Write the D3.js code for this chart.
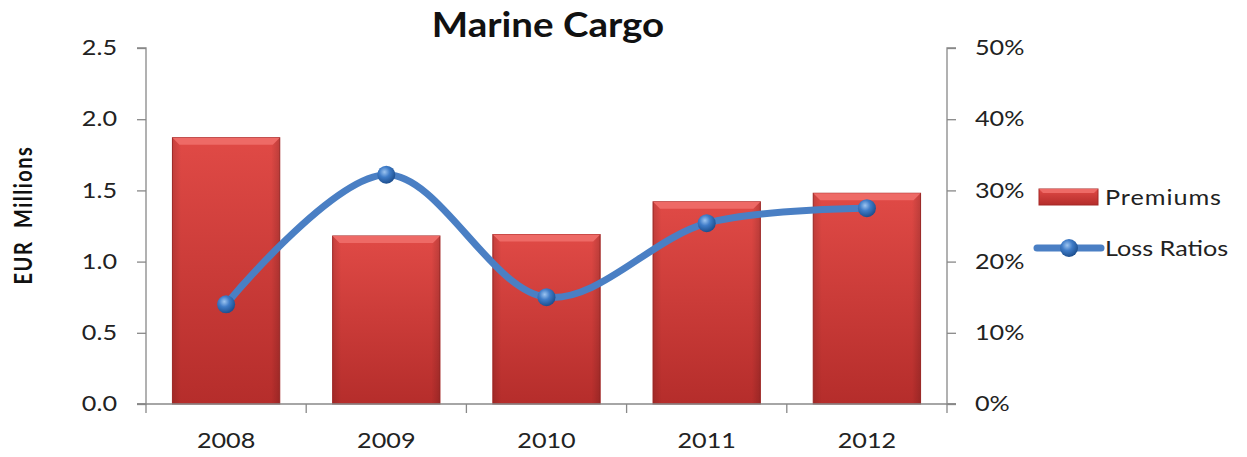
<!DOCTYPE html>
<html><head><meta charset="utf-8">
<script src="https://cdn.jsdelivr.net/npm/d3@7"></script>
<style>body{margin:0;background:#fff}svg{display:block}text{font-family:Lato,"Open Sans",sans-serif;fill:#222}</style>
</head><body><svg id="c" width="1247" height="457"></svg>
<script>
const years = ["2008","2009","2010","2011","2012"];
const premiums = [1.87, 1.18, 1.19, 1.42, 1.48];
const lossRatios = [0.14, 0.322, 0.15, 0.254, 0.275];
const leftTicks = [0, 0.5, 1.0, 1.5, 2.0, 2.5];
const rightTicks = [0, 0.1, 0.2, 0.3, 0.4, 0.5];
const title = "Marine Cargo";
const yTitle = "EUR  Millions";
const seriesNames = ["Premiums", "Loss Ratios"];

const SX = 1.2; // horizontal stretch of the original's text
const svg = d3.select("#c");
const L = 146, R = 947, T = 48, B = 404;
const x = d3.scaleBand().domain(years).range([L, R]).paddingInner(0.33).paddingOuter(0.165);
const xc = d3.scaleBand().domain(years).range([L, R]);
const y = d3.scaleLinear().domain([0, 2.5]).range([B, T]);
const y2 = d3.scaleLinear().domain([0, 0.5]).range([B, T]);

const defs = svg.append("defs");
const g1 = defs.append("linearGradient").attr("id","barG").attr("x1",0).attr("y1",0).attr("x2",0).attr("y2",1);
g1.append("stop").attr("offset","0%").attr("stop-color","#e04a46");
g1.append("stop").attr("offset","100%").attr("stop-color","#b52d2b");
const g2 = defs.append("linearGradient").attr("id","barH").attr("x1",0).attr("y1",0).attr("x2",1).attr("y2",0);
g2.append("stop").attr("offset","0%").attr("stop-color","#000").attr("stop-opacity",0.12);
g2.append("stop").attr("offset","8%").attr("stop-color","#000").attr("stop-opacity",0);
g2.append("stop").attr("offset","92%").attr("stop-color","#000").attr("stop-opacity",0);
g2.append("stop").attr("offset","100%").attr("stop-color","#000").attr("stop-opacity",0.15);
const rg = defs.append("radialGradient").attr("id","dotG").attr("cx","40%").attr("cy","35%").attr("r","65%");
rg.append("stop").attr("offset","0%").attr("stop-color","#9cc4f0");
rg.append("stop").attr("offset","45%").attr("stop-color","#3f7cc8");
rg.append("stop").attr("offset","100%").attr("stop-color","#1d4f8f");

// title
svg.append("g").attr("transform","translate(548,37) scale(1.1,1)")
  .append("text").attr("text-anchor","middle")
  .style("font-size","35px").style("font-weight","bold").style("fill","#111").text(title);
// y title
svg.append("g").attr("transform",`translate(32,215) scale(${SX},1) rotate(-90)`)
  .append("text").attr("text-anchor","middle").attr("xml:space","preserve").style("white-space","pre")
  .style("font-size","20px").style("font-weight","bold").style("letter-spacing","1.5px").style("fill","#111").text(yTitle);

// bars
const bars = svg.append("g").selectAll("g").data(years).join("g");
bars.append("rect").attr("x", d=>x(d)).attr("width", x.bandwidth())
  .attr("y", (d,i)=>y(premiums[i])).attr("height",(d,i)=>B - y(premiums[i]))
  .attr("fill","url(#barG)").attr("stroke","#a52826").attr("stroke-width",1);
bars.append("rect").attr("x", d=>x(d)).attr("width", x.bandwidth())
  .attr("y", (d,i)=>y(premiums[i])).attr("height",(d,i)=>B - y(premiums[i]))
  .attr("fill","url(#barH)");
bars.append("path").attr("d",(d,i)=>{
  const x0 = x(d), x1 = x(d)+x.bandwidth(), t = y(premiums[i]), b = 7;
  return `M${x0},${t}L${x1},${t}L${x1-b},${t+b}L${x0+b},${t+b}Z`;
}).attr("fill","#ee6a66");

// axes
const axL = svg.append("g").attr("transform",`translate(${L},0)`)
  .call(d3.axisLeft(y).tickValues(leftTicks).tickFormat(d3.format(".1f")).tickSize(9).tickPadding(20));
const axR = svg.append("g").attr("transform",`translate(${R},0)`)
  .call(d3.axisRight(y2).tickValues(rightTicks).tickFormat(d3.format(".0%")).tickSize(9).tickPadding(19));
const axB = svg.append("g").attr("transform",`translate(0,${B})`)
  .call(d3.axisBottom(xc).tickSize(0).tickPadding(29));
axB.selectAll(".tick line").remove();
axB.append("g").selectAll("line").data(years.concat(["end"])).join("line")
  .attr("x1",(d,i)=>L + i*xc.bandwidth()).attr("x2",(d,i)=>L + i*xc.bandwidth())
  .attr("y1",0).attr("y2",9).attr("stroke","#888").attr("stroke-width",1.3);
[axL, axR, axB].forEach(a=>{
  a.selectAll(".domain").attr("stroke","#888").attr("stroke-width",1.3);
  a.selectAll(".tick line").attr("stroke","#888").attr("stroke-width",1.3);
  a.selectAll(".tick text").style("font-size","21px").style("fill","#222").style("font-family","Lato,sans-serif")
    .each(function(){ const t = d3.select(this); t.attr("x", (+t.attr("x")||0)/SX).attr("transform",`scale(${SX},1)`); });
});
axL.select(".domain").attr("d",`M-9,${T}H0V${B}H-9`);
axR.select(".domain").attr("d",`M9,${T}H0V${B}H9`);
axB.select(".domain").attr("d",`M${L-9},0H${R+9}`);

// line
const line = d3.line().x((d,i)=>xc(years[i]) + xc.bandwidth()/2).y(d=>y2(d)).curve(d3.curveCatmullRom.alpha(0.5));
svg.append("path").datum(lossRatios).attr("d", line).attr("fill","none")
  .attr("stroke","#4a7fc4").attr("stroke-width",7).attr("stroke-linecap","round");
svg.append("g").selectAll("circle").data(lossRatios).join("circle")
  .attr("cx",(d,i)=>xc(years[i]) + xc.bandwidth()/2).attr("cy", d=>y2(d)).attr("r", 9)
  .attr("fill","url(#dotG)");

// legend
const lg = svg.append("g");
lg.append("rect").attr("x",1039).attr("y",189).attr("width",59).attr("height",16)
  .attr("fill","url(#barG)").attr("stroke","#a52826");
lg.append("path").attr("d","M1039,189H1098L1094,193H1043Z").attr("fill","#ee6a66");
lg.append("g").attr("transform",`translate(1105,205) scale(${SX},1)`).append("text")
  .style("font-size","21px").style("letter-spacing","0.8px").text(seriesNames[0]);
lg.append("line").attr("x1",1037).attr("x2",1101).attr("y1",248).attr("y2",248)
  .attr("stroke","#4a7fc4").attr("stroke-width",7).attr("stroke-linecap","round");
lg.append("circle").attr("cx",1069).attr("cy",248).attr("r",9).attr("fill","url(#dotG)");
lg.append("g").attr("transform",`translate(1105,256) scale(${SX},1)`).append("text")
  .style("font-size","21px").text(seriesNames[1]);
</script></body></html>
